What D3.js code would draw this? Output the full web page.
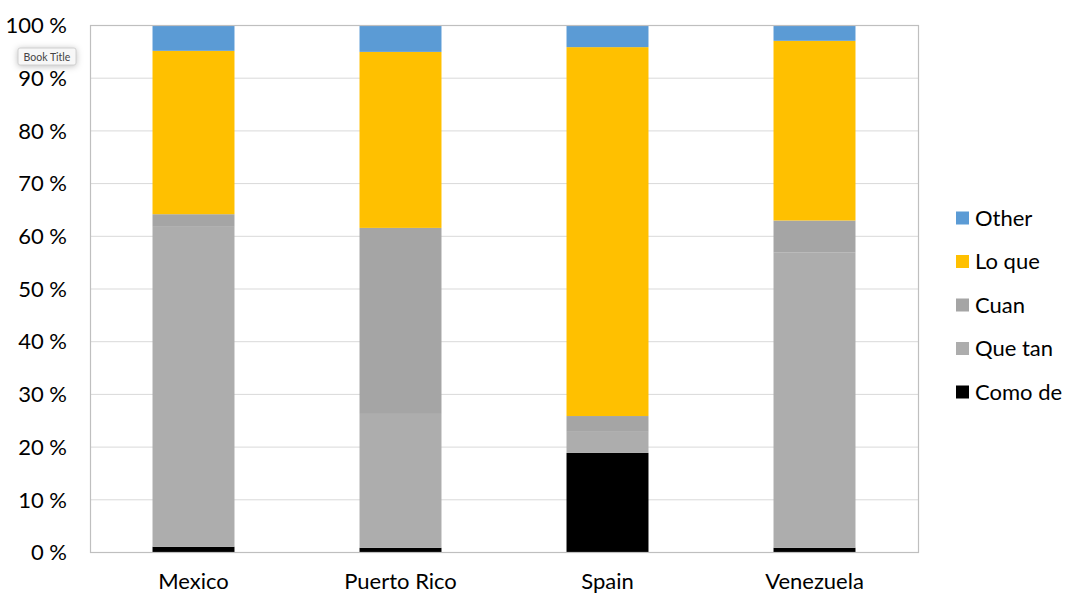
<!DOCTYPE html>
<html>
<head>
<meta charset="utf-8">
<script src="https://cdn.jsdelivr.net/npm/d3@7"></script>
<style>
  body { margin: 0; background: #fff; overflow: hidden; }
  text { font-family: Lato, "Open Sans", sans-serif; fill: #000; }
</style>
</head>
<body>
<svg id="chart" width="1066" height="593"></svg>
<script>
// data
const countries = ["Mexico", "Puerto Rico", "Spain", "Venezuela"];
const seriesNames = ["Como de", "Que tan", "Cuan", "Lo que", "Other"];
const comoDe = [1.0, 0.8, 18.8, 0.8];
const queTan = [60.7, 25.4, 4.0, 56.0];
const cuan = [2.4, 35.3, 3.0, 6.1];
const loQue = [31.0, 33.4, 70.0, 34.1];
const other = [4.9, 5.1, 4.2, 3.0];
const yTicks = [0, 10, 20, 30, 40, 50, 60, 70, 80, 90, 100];
const colors = ["#000000", "#adadad", "#a5a5a5", "#ffc000", "#5b9bd5"];

const rows = countries.map((c, i) => ({
	country: c,
	"Como de": comoDe[i],
	"Que tan": queTan[i],
	"Cuan": cuan[i],
	"Lo que": loQue[i],
	"Other": other[i]
}));

const plotLeft = 90, plotRight = 918, plotTop = 25, plotBottom = 552;
const svg = d3.select("#chart");

const x = d3.scaleBand().domain(countries).range([plotLeft, plotRight]).paddingInner(0.604).paddingOuter(0.302);
const y = d3.scaleLinear().domain([0, 100]).range([plotBottom, plotTop]);
const color = d3.scaleOrdinal().domain(seriesNames).range(colors);

// gridlines
svg.append("g")
		.selectAll("line")
		.data(yTicks)
		.enter()
		.append("line")
		.attr("x1", plotLeft)
		.attr("x2", plotRight)
		.attr("y1", d => y(d) + 0.5)
		.attr("y2", d => y(d) + 0.5)
		.attr("stroke", "#d9d9d9")
		.attr("stroke-width", 1);

// stacked bars
const stack = d3.stack().keys(seriesNames)(rows);
svg.append("g")
		.selectAll("g")
		.data(stack)
		.enter()
		.append("g")
		.attr("fill", d => color(d.key))
		.selectAll("rect")
		.data(d => d)
		.enter()
		.append("rect")
		.attr("x", d => x(d.data.country))
		.attr("width", x.bandwidth())
		.attr("y", d => y(d[1]))
		.attr("height", d => y(d[0]) - y(d[1]));

// plot border
svg.append("rect")
		.attr("x", plotLeft + 0.5)
		.attr("y", plotTop + 0.5)
		.attr("width", plotRight - plotLeft)
		.attr("height", plotBottom - plotTop)
		.attr("fill", "none")
		.attr("stroke", "#bfbfbf")
		.attr("stroke-width", 1.2);

// y axis labels
const yAxis = svg.append("g")
		.attr("transform", "translate(" + (plotLeft - 23) + ",0)")
		.call(d3.axisLeft(y).tickValues(yTicks).tickSize(0).tickFormat(d => d + " %"));
yAxis.select(".domain").remove();
yAxis.selectAll("text")
		.attr("x", 0)
		.attr("dy", "0.35em")
		.style("font-size", "22px")
		.style("font-family", "Lato, 'Open Sans', sans-serif");

// x axis labels
const xAxis = svg.append("g")
		.attr("transform", "translate(0," + plotBottom + ")")
		.call(d3.axisBottom(x).tickSize(0));
xAxis.select(".domain").remove();
xAxis.selectAll("text")
		.attr("y", 29)
		.attr("dy", "0.35em")
		.style("font-size", "22px")
		.style("font-family", "Lato, 'Open Sans', sans-serif");

// legend, top-down reversed like the stack
const legendY = d3.scalePoint().domain(seriesNames.slice().reverse()).range([218, 392]);
const legend = svg.append("g")
		.selectAll("g")
		.data(seriesNames.slice().reverse())
		.enter()
		.append("g")
		.attr("transform", d => "translate(956," + legendY(d) + ")");
legend.append("rect")
		.attr("x", 0)
		.attr("y", -6.5)
		.attr("width", 13)
		.attr("height", 13)
		.attr("fill", d => color(d));
legend.append("text")
		.attr("x", 19)
		.attr("dy", "0.35em")
		.style("font-size", "22px")
		.text(d => d);

// "Book Title" tooltip captured in the screenshot
const tip = svg.append("g").attr("transform", "translate(18,48)");
tip.append("rect")
		.attr("width", 58)
		.attr("height", 17)
		.attr("rx", 2)
		.attr("fill", "#f7f7f7")
		.attr("stroke", "#d0d0d0")
		.style("filter", "drop-shadow(0 1px 3px rgba(0,0,0,0.25))");
tip.append("text")
		.attr("x", 29)
		.attr("y", 9)
		.attr("dy", "0.35em")
		.attr("text-anchor", "middle")
		.style("font-size", "10.5px")
		.style("fill", "#444")
		.text("Book Title");
</script>
</body>
</html>
